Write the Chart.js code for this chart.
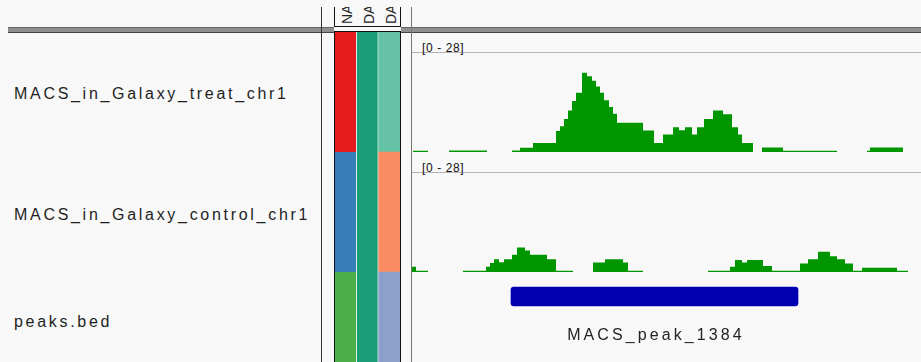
<!DOCTYPE html>
<html>
<head>
<meta charset="utf-8">
<script src="https://cdn.jsdelivr.net/npm/chart.js@4/dist/chart.umd.min.js"></script>
<style>
html,body{margin:0;padding:0;background:#f8f8f8;width:921px;height:362px;overflow:hidden;font-family:"Liberation Sans",Arial,sans-serif;}
.abs{position:absolute;}
.name{position:absolute;left:14px;font-size:16px;letter-spacing:2.7px;color:#1e1e1e;white-space:nowrap;line-height:18px;}
.range{position:absolute;left:422px;font-size:12px;letter-spacing:0.6px;color:#111;white-space:nowrap;line-height:12px;}
.rline{position:absolute;left:412px;width:509px;height:1px;background:#b4b4b4;}
.hdr{position:absolute;font-size:14px;line-height:14px;color:#222;white-space:nowrap;transform:rotate(-90deg);transform-origin:0 0;}
canvas{position:absolute;display:block;}
</style>
</head>
<body>
<!-- header band -->
<div class="abs" style="left:8px;top:27px;width:913px;height:4px;background:#8e8e8e;border-top:1px solid #666;border-bottom:1px solid #444;"></div>
<!-- vertical separators -->
<div class="abs" style="left:321px;top:7px;width:1px;height:355px;background:#333;"></div>
<div class="abs" style="left:411px;top:7px;width:1px;height:355px;background:#777;"></div>
<!-- attribute header box -->
<div class="abs" style="left:334px;top:7px;width:65px;height:19px;border:1px solid #111;border-top:none;background:#f8f8f8;overflow:hidden;" id="hdrbox"></div>
<div class="abs" style="left:334px;top:27px;width:67px;height:4px;background:#f8f8f8;"></div>
<div class="abs" style="left:334px;top:31px;width:65px;height:340px;border:1px solid #111;border-bottom:none;"></div>

<div class="name" style="top:85px;" id="n0"></div>
<div class="name" style="top:206px;" id="n1"></div>
<div class="name" style="top:313px;" id="n2"></div>

<div class="rline" style="top:52px;"></div>
<div class="rline" style="top:172px;"></div>
<div class="range" style="top:42px;" id="r0"></div>
<div class="range" style="top:162px;" id="r1"></div>

<canvas id="attr" width="65" height="360" style="left:335px;top:32px;"></canvas>
<canvas id="treat" width="509" height="120" style="left:412px;top:32px;"></canvas>
<canvas id="control" width="509" height="120" style="left:412px;top:152px;"></canvas>
<canvas id="peaks" width="509" height="90" style="left:412px;top:272px;"></canvas>

<script>
// ---- data ----
const trackNames = ['MACS_in_Galaxy_treat_chr1', 'MACS_in_Galaxy_control_chr1', 'peaks.bed'];
const attributeNames = ['NAME', 'DATA FILE', 'DATA TYPE'];
const nameColors = ['#e41a1c', '#377eb8', '#4daf4a'];
const dataFileColors = ['#1b9e77', '#1b9e77', '#1b9e77'];
const dataTypeColors = ['#66c2a5', '#fc8d62', '#8da0cb'];
const dataRangeMin = 0;
const dataRangeMax = 28;
const viewStart = 0;
const viewEnd = 509;

const treatStarts = [1, 37, 100, 108, 121, 144, 148, 152, 156, 160, 164, 170, 175, 180, 184, 188, 192, 197, 201, 205, 231, 242, 251, 261, 267, 273, 280, 285, 292, 301, 311, 320, 326, 330, 350, 371, 455, 458];
const treatEnds   = [16, 75, 108, 121, 144, 148, 152, 156, 160, 164, 170, 175, 180, 184, 188, 192, 197, 201, 205, 231, 242, 251, 261, 267, 273, 280, 285, 292, 301, 311, 320, 326, 330, 341, 371, 425, 458, 491];
const treatValues = [0.3, 0.35, 0.35, 1.0, 2.1, 4.9, 6.0, 7.7, 9.7, 11.9, 13.8, 18.5, 17.7, 16.6, 15.3, 13.8, 12.1, 10.5, 8.9, 6.8, 5.0, 2.1, 4.1, 5.8, 5.1, 5.8, 4.1, 5.8, 7.7, 9.7, 8.8, 5.8, 4.1, 2.1, 1.05, 0.3, 0.3, 1.05];

const controlStarts = [0, 4, 51, 74, 78, 82, 87, 92, 100, 105, 113, 118, 135, 144, 181, 193, 211, 216, 296, 318, 323, 330, 335, 351, 360, 388, 396, 406, 418, 425, 433, 441, 450, 485];
const controlEnds   = [4, 16, 74, 78, 82, 87, 92, 100, 105, 113, 118, 135, 144, 161, 193, 211, 216, 231, 318, 323, 330, 335, 351, 360, 388, 396, 406, 418, 425, 433, 441, 450, 485, 496];
const controlValues = [1.2, 0.3, 0.3, 1.2, 2.1, 3.0, 2.3, 3.0, 4.0, 5.7, 5.0, 4.0, 3.0, 0.3, 2.2, 3.0, 2.2, 0.3, 0.3, 1.2, 2.8, 2.2, 2.8, 1.4, 0.3, 2.0, 3.0, 4.7, 3.7, 3.0, 2.0, 0.3, 1.0, 0.3];

const peakNames = ['MACS_peak_1384'];
const peakStarts = [99];
const peakEnds = [386];

// ---- text ----
trackNames.forEach((n, i) => { document.getElementById('n' + i).textContent = n; });
['r0', 'r1'].forEach(id => { document.getElementById(id).textContent = '[' + dataRangeMin + ' - ' + dataRangeMax + ']'; });
const hdrOffsets = [5, 27, 49];
attributeNames.forEach((a, i) => {
  const s = document.createElement('div');
  s.className = 'hdr';
  s.textContent = a;
  s.style.left = hdrOffsets[i] + 'px';
  s.style.top = '17px';
  document.getElementById('hdrbox').appendChild(s);
});

// ---- helpers ----
function stepPoints(starts, ends, values) {
  const pts = [];
  let prev = null;
  for (let i = 0; i < starts.length; i++) {
    if (prev !== null && starts[i] > prev) pts.push({x: prev, y: 0});
    pts.push({x: starts[i], y: values[i]});
    prev = ends[i];
  }
  pts.push({x: prev, y: 0});
  return pts;
}

const common = {
  responsive: false, animation: false, devicePixelRatio: 1,
  plugins: {legend: {display: false}, tooltip: {enabled: false}},
  layout: {padding: 0}
};

function coverageChart(id, starts, ends, values) {
  return new Chart(document.getElementById(id), {
    type: 'line',
    data: {datasets: [{
      data: stepPoints(starts, ends, values),
      stepped: 'before', fill: 'origin',
      backgroundColor: 'rgb(0,150,0)', borderColor: 'rgb(0,150,0)',
      borderWidth: 0, pointRadius: 0
    }]},
    options: Object.assign({}, common, {
      scales: {
        x: {type: 'linear', min: viewStart, max: viewEnd, display: true,
            grid: {display: false, drawTicks: false}, ticks: {display: false},
            border: {display: true, color: '#c4c4c4', width: 1}},
        y: {min: dataRangeMin, max: dataRangeMax, display: false}
      }
    })
  });
}

coverageChart('treat', treatStarts, treatEnds, treatValues);
coverageChart('control', controlStarts, controlEnds, controlValues);

// attribute panel
const attrColors = [nameColors, dataFileColors, dataTypeColors];
new Chart(document.getElementById('attr'), {
  type: 'bar',
  data: {
    labels: trackNames,
    datasets: attributeNames.map((a, i) => ({
      label: a,
      data: trackNames.map(() => 1),
      backgroundColor: attrColors[i],
      borderColor: 'rgba(225,240,232,0.85)',
      borderWidth: {left: 0, right: i < 2 ? 1 : 0, top: 0, bottom: 0},
      borderSkipped: false,
      barPercentage: 1, categoryPercentage: 1
    }))
  },
  options: Object.assign({}, common, {
    indexAxis: 'y',
    scales: {
      x: {stacked: true, min: 0, max: attributeNames.length, display: false},
      y: {stacked: true, display: false}
    }
  })
});

// peaks track
const featureLabel = {
  id: 'featureLabel',
  afterDatasetsDraw(chart) {
    const ctx = chart.ctx;
    const meta = chart.getDatasetMeta(0);
    meta.data.forEach((bar, i) => {
      const cx = (bar.x + bar.base) / 2;
      ctx.save();
      ctx.font = '16px "Liberation Sans", Arial, sans-serif';
      if ('letterSpacing' in ctx) ctx.letterSpacing = '3.1px';
      ctx.fillStyle = '#222';
      ctx.textAlign = 'center';
      ctx.textBaseline = 'middle';
      ctx.fillText(peakNames[i], cx + 1.5, bar.y + 39);
      ctx.restore();
    });
  }
};
new Chart(document.getElementById('peaks'), {
  type: 'bar',
  data: {
    labels: peakNames,
    datasets: [{
      data: peakStarts.map((s, i) => [s, peakEnds[i]]),
      backgroundColor: 'rgb(0,0,178)',
      barThickness: 19, borderRadius: 3, borderSkipped: false
    }]
  },
  options: Object.assign({}, common, {
    indexAxis: 'y',
    layout: {padding: {bottom: 41}},
    scales: {
      x: {type: 'linear', min: viewStart, max: viewEnd, display: false},
      y: {display: false}
    }
  }),
  plugins: [featureLabel]
});
</script>
</body>
</html>
